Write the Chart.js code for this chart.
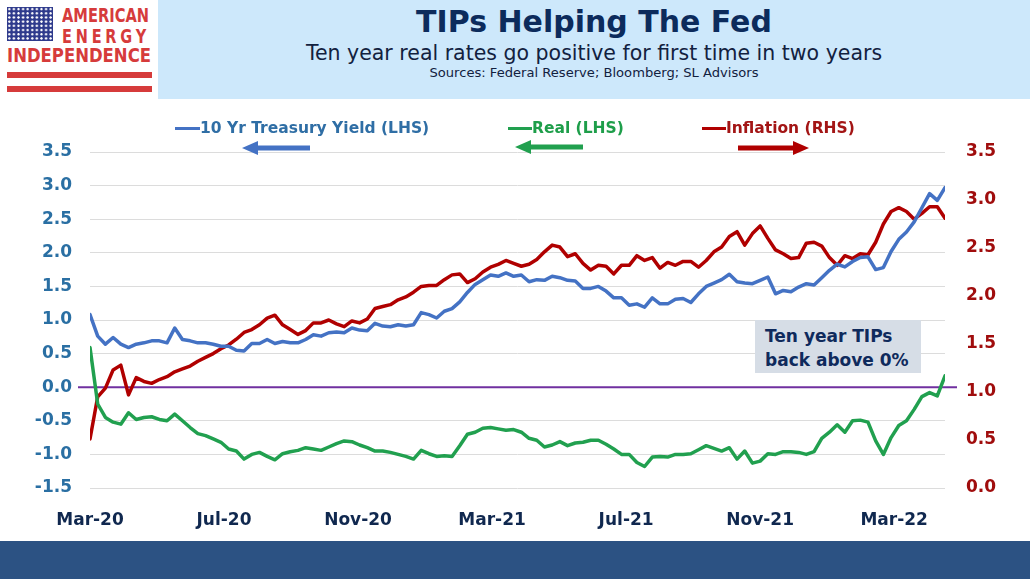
<!DOCTYPE html>
<html>
<head>
<meta charset="utf-8">
<script src="https://cdn.jsdelivr.net/npm/chart.js@4.4.1/dist/chart.umd.min.js"></script>
<style>
  body { margin: 0; width: 1030px; height: 579px; overflow: hidden; background: #fff; position: relative;
         font-family: 'DejaVu Sans', Verdana, sans-serif; }
  .abs { position: absolute; }
  #banner { left: 158px; top: 0; width: 872px; height: 99px; background: #cde8fb; text-align: center; color: #0c2b5c; }
  #title { position: absolute; left: 0; right: 0; top: 4px; font-size: 30px; font-weight: bold; }
  #subtitle { position: absolute; left: 0; right: 0; top: 41px; font-size: 20.5px; color: #12213f; }
  #sources { position: absolute; left: 0; right: 0; top: 65px; font-size: 13.1px; color: #12213f; }
  #flag { left: 7px; top: 7px; width: 46px; height: 34px; background-color: #2e3a8c;
          background-image: radial-gradient(circle, #fff 0.9px, transparent 1.4px); background-size: 4.6px 4.2px; }
  .logo { font-family: 'DejaVu Sans', sans-serif; font-weight: bold; color: #d63b3b; line-height: 1;
          white-space: nowrap; transform-origin: 0 0; }
  .bar { left: 7px; width: 145px; height: 6px; background: #d63b3b; }
  .leg { font-size: 15.5px; font-weight: bold; top: 119px; line-height: 18px; white-space: nowrap; }
  .legline { height: 3.5px; top: 126.5px; }
  #note { left: 755px; top: 320px; width: 156px; height: 49px; padding: 4px 0 0 10px; background: #d6dde6;
          font-size: 17px; font-weight: bold; line-height: 24px; color: #0f2a5c; z-index: 2; }
  #footer { left: 0; top: 541px; width: 1030px; height: 38px; background: #2c5283; }
  #wrap { left: 0; top: 100px; width: 1030px; height: 440px; }
</style>
</head>
<body>
<div id="flag" class="abs"></div>
<div class="abs logo" data-w="87" style="left:62px;top:6px;font-size:19px;">AMERICAN</div>
<div class="abs logo" data-w="88" style="left:62px;top:27px;font-size:19px;letter-spacing:5px;">ENERGY</div>
<div class="abs logo" data-w="144" style="left:7px;top:46px;font-size:19px;">INDEPENDENCE</div>
<div class="abs bar" style="top:72px;"></div>
<div class="abs bar" style="top:86px;"></div>

<div id="banner" class="abs">
  <div id="title">TIPs Helping The Fed</div>
  <div id="subtitle">Ten year real rates go positive for first time in two years</div>
  <div id="sources">Sources: Federal Reserve; Bloomberg; SL Advisors</div>
</div>

<div id="wrap" class="abs"><canvas id="grafico"></canvas></div>

<div class="abs legline" style="left:175px;width:25px;background:#4472c4;"></div>
<div class="abs leg" style="left:200px;color:#2f6ea5;">10 Yr Treasury Yield (LHS)</div>
<svg class="abs" style="left:242px;top:141px;" width="68" height="14"><polygon points="0,7 16,0 16,4.5 68,4.5 68,9.5 16,9.5 16,14" fill="#4472c4"/></svg>

<div class="abs legline" style="left:508px;width:24px;background:#21a04f;"></div>
<div class="abs leg" style="left:532px;color:#1e9e4a;">Real (LHS)</div>
<svg class="abs" style="left:515px;top:140px;" width="68" height="14"><polygon points="0,7 16,0 16,4.5 68,4.5 68,9.5 16,9.5 16,14" fill="#21a04f"/></svg>

<div class="abs legline" style="left:702px;width:24px;background:#b00000;"></div>
<div class="abs leg" style="left:726px;color:#a31515;">Inflation (RHS)</div>
<svg class="abs" style="left:738px;top:141px;" width="71" height="14"><polygon points="71,7 55,0 55,4.5 0,4.5 0,9.5 55,9.5 55,14" fill="#b00000"/></svg>

<div id="note" class="abs">Ten year TIPs<br>back above 0%</div>
<div id="footer" class="abs"></div>

<script>
// weekly readings, mid Mar-20 to Apr-22
const treasuryYield = [
  1.08, 0.76, 0.64, 0.74, 0.64, 0.59, 0.64, 0.66, 0.69, 0.69, 0.66, 0.88, 0.71, 0.69, 0.66, 0.66, 0.64, 0.61, 0.61,
  0.55, 0.54, 0.65, 0.65, 0.71, 0.65, 0.68, 0.66, 0.66, 0.71, 0.78, 0.76, 0.81, 0.82, 0.81, 0.88, 0.85, 0.84, 0.95,
  0.91, 0.90, 0.93, 0.91, 0.93, 1.11, 1.08, 1.03, 1.13, 1.17, 1.27, 1.41, 1.53, 1.60, 1.67, 1.65, 1.70, 1.65,
  1.67, 1.57, 1.60, 1.59, 1.65, 1.63, 1.59, 1.58, 1.47, 1.47, 1.50, 1.43, 1.33, 1.33, 1.22, 1.24, 1.19, 1.33, 1.24,
  1.24, 1.31, 1.32, 1.26, 1.39, 1.50, 1.55, 1.60, 1.68, 1.57, 1.55, 1.54, 1.59, 1.64, 1.39, 1.44, 1.42, 1.49, 1.54,
  1.52, 1.63, 1.74, 1.83, 1.79, 1.87, 1.93, 1.94, 1.75, 1.78, 2.02, 2.20, 2.31, 2.46, 2.67, 2.88, 2.78, 2.97
];
const realYield = [
  0.59, -0.25, -0.45, -0.52, -0.55, -0.38, -0.48, -0.45, -0.44, -0.48, -0.50, -0.40, -0.50, -0.60, -0.69, -0.72, -0.77, -0.82, -0.92,
  -0.95, -1.07, -1.00, -0.97, -1.03, -1.08, -0.99, -0.96, -0.94, -0.90, -0.92, -0.94, -0.89, -0.84, -0.80, -0.81, -0.86, -0.90, -0.95,
  -0.95, -0.97, -1.00, -1.03, -1.07, -0.94, -0.99, -1.03, -1.02, -1.03, -0.87, -0.70, -0.67, -0.61, -0.60, -0.62, -0.64, -0.63,
  -0.67, -0.76, -0.79, -0.89, -0.86, -0.81, -0.87, -0.83, -0.82, -0.79, -0.79, -0.85, -0.92, -1.00, -1.00, -1.12, -1.18, -1.04, -1.03,
  -1.04, -1.00, -1.00, -0.99, -0.93, -0.87, -0.91, -0.95, -0.90, -1.07, -0.95, -1.13, -1.10, -0.99, -1.00, -0.96, -0.96, -0.97, -1.00,
  -0.96, -0.76, -0.67, -0.56, -0.67, -0.50, -0.49, -0.52, -0.80, -1.00, -0.75, -0.57, -0.50, -0.33, -0.14, -0.08, -0.13, 0.17
];
const inflation = [
  0.51, 0.95, 1.04, 1.23, 1.28, 0.97, 1.15, 1.11, 1.09, 1.13, 1.16, 1.21, 1.24, 1.27, 1.32, 1.36, 1.40, 1.45, 1.49,
  1.55, 1.62, 1.65, 1.70, 1.77, 1.80, 1.70, 1.65, 1.60, 1.64, 1.72, 1.72, 1.75, 1.71, 1.68, 1.74, 1.72, 1.76, 1.87,
  1.89, 1.91, 1.96, 1.99, 2.04, 2.10, 2.11, 2.11, 2.17, 2.22, 2.23, 2.14, 2.18, 2.25, 2.30, 2.33, 2.37, 2.34,
  2.31, 2.33, 2.38, 2.46, 2.53, 2.51, 2.41, 2.44, 2.34, 2.27, 2.32, 2.31, 2.23, 2.32, 2.32, 2.42, 2.37, 2.40, 2.29,
  2.35, 2.32, 2.36, 2.36, 2.30, 2.37, 2.46, 2.51, 2.62, 2.67, 2.53, 2.65, 2.73, 2.60, 2.48, 2.44, 2.39, 2.40, 2.55,
  2.56, 2.52, 2.40, 2.32, 2.42, 2.39, 2.44, 2.43, 2.56, 2.75, 2.88, 2.92, 2.88, 2.80, 2.86, 2.93, 2.93, 2.81
];
const weekIndex = treasuryYield.map((v, i) => i);
const tickLabels = ['Mar-20', 'Jul-20', 'Nov-20', 'Mar-21', 'Jul-21', 'Nov-21', 'Mar-22'];
const tickWeeks = [0, 17.4, 34.8, 52.2, 69.6, 87.0, 104.4];

// squeeze logo words to their box width
document.querySelectorAll('.logo').forEach(el => {
  const alvo = parseFloat(el.dataset.w);
  const largura = el.getBoundingClientRect().width;
  el.style.transform = `scaleX(${alvo / largura})`;
});

const linhaZero = {
  id: 'linhaZero',
  beforeDatasetsDraw(chart) {
    const ctx = chart.ctx;
    const area = chart.chartArea;
    const y = chart.scales.y.getPixelForValue(0);
    ctx.save();
    ctx.strokeStyle = '#7030a0';
    ctx.lineWidth = 2;
    ctx.beginPath();
    ctx.moveTo(area.left - 12, y);
    ctx.lineTo(area.right + 12, y);
    ctx.stroke();
    ctx.restore();
  }
};

const fonte = { family: "'DejaVu Sans', Verdana, sans-serif", size: 17, weight: 'bold' };

new Chart('grafico', {
  type: 'line',
  data: {
    labels: weekIndex,
    datasets: [{
      label: 'Real (LHS)',
      data: realYield,
      borderColor: '#21a04f',
      yAxisID: 'y'
    }, {
      label: '10 Yr Treasury Yield (LHS)',
      data: treasuryYield,
      borderColor: '#4472c4',
      yAxisID: 'y'
    }, {
      label: 'Inflation (RHS)',
      data: inflation,
      borderColor: '#b00000',
      yAxisID: 'y2'
    }]
  },
  options: {
    responsive: true,
    maintainAspectRatio: false,
    animation: false,
    layout: { padding: { top: 52 } },
    elements: {
      line: { borderWidth: 3.5, tension: 0, borderJoinStyle: 'round', borderCapStyle: 'round' },
      point: { radius: 0 }
    },
    plugins: { legend: { display: false }, tooltip: { enabled: false } },
    scales: {
      x: {
        type: 'linear',
        min: 0,
        max: weekIndex.length - 1,
        grid: { display: false },
        border: { display: false },
        afterBuildTicks: axis => { axis.ticks = tickWeeks.map(v => ({ value: v })); },
        afterFit: axis => { axis.height = 52; },
        ticks: {
          autoSkip: false,
          maxRotation: 0,
          padding: 14,
          color: '#10284f',
          font: fonte,
          callback: (v, i) => tickLabels[i]
        }
      },
      y: {
        position: 'left',
        min: -1.5,
        max: 3.5,
        grid: { color: '#dcdcdc', lineWidth: 1, drawTicks: false },
        border: { display: false },
        afterFit: axis => { axis.width = 90; },
        ticks: { stepSize: 0.5, padding: 18, color: '#2a6fa3', font: fonte, callback: v => v.toFixed(1) }
      },
      y2: {
        position: 'right',
        min: 0,
        max: 3.5,
        grid: { display: false, drawTicks: false },
        border: { display: false },
        afterFit: axis => { axis.width = 85; },
        ticks: { stepSize: 0.5, padding: 21, color: '#a00d0d', font: fonte, callback: v => v.toFixed(1) }
      }
    }
  },
  plugins: [linhaZero]
});
</script>
</body>
</html>
